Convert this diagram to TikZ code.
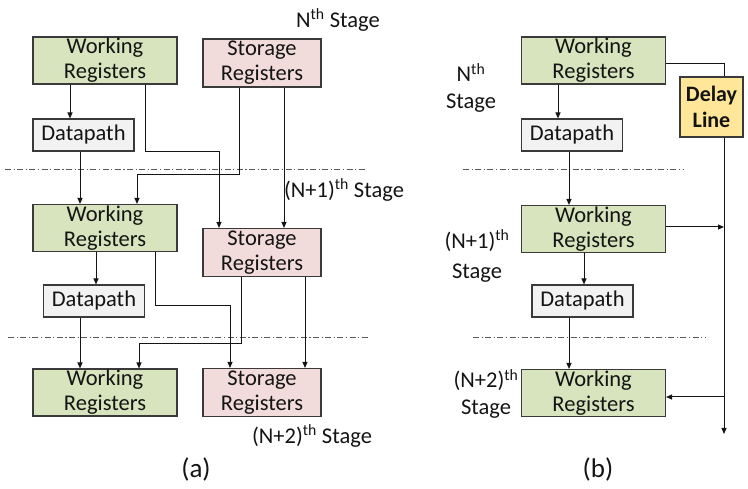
\documentclass[tikz,border=0pt]{standalone}
\usepackage{fontspec}
\setmainfont{Carlito}
\usetikzlibrary{arrows.meta}
\definecolor{wrfill}{HTML}{D7E4BD}
\definecolor{srfill}{HTML}{F2DCDB}
\definecolor{dpfill}{HTML}{F2F2F2}
\definecolor{dlfill}{HTML}{FFE699}
\definecolor{boxline}{HTML}{3A3A3A}
\definecolor{txt}{HTML}{141414}
\tikzset{
  box/.style={draw=boxline, line width=1.1pt, inner sep=0pt, align=center,
    font=\fontsize{22.5}{25}\selectfont, text=txt},
  wrbox/.style={box, fill=wrfill, minimum width=144pt, minimum height=47pt},
  srbox/.style={box, fill=srfill, minimum width=118pt, minimum height=48pt},
  dpbox/.style={box, fill=dpfill, minimum width=101pt, minimum height=32pt},
  dlbox/.style={box, fill=dlfill, minimum width=63pt, minimum height=60pt,
    font=\fontsize{22}{26}\selectfont\bfseries},
  arr/.style={draw=txt, line width=1pt, -{Triangle[length=6pt,width=5pt]}},
  wire/.style={draw=txt, line width=1pt},
  sep/.style={draw=gray!70!black, line width=1pt, dash pattern=on 6pt off 2.5pt on 1.2pt off 2.5pt},
  lbl/.style={font=\fontsize{22.5}{27}\selectfont, text=txt, align=center, inner sep=0pt},
  captxt/.style={font=\fontsize{27}{30}\selectfont, text=txt, inner sep=0pt}
}
\begin{document}
\begin{tikzpicture}[x=1pt,y=-1pt]
\useasboundingbox (0,0) rectangle (748,489);
% ---------------- (a) ----------------
\node[wrbox] (aw1) at (105,60.5) {Working\\Registers};
\node[srbox] (as1) at (262,63) {Storage\\Registers};
\node[dpbox] (ad1) at (83.5,135) {Datapath};
\node[wrbox] (aw2) at (105,228) {Working\\Registers};
\node[srbox] (as2) at (262,252.5) {Storage\\Registers};
\node[dpbox] (ad2) at (94,301) {Datapath};
\node[wrbox] (aw3) at (105,392.5) {Working\\Registers};
\node[srbox] (as3) at (262,392.5) {Storage\\Registers};

\coordinate (asepA1) at (5,170);
\coordinate (asepA2) at (366,170);
\coordinate (asepB1) at (8,338);
\coordinate (asepB2) at (368,338);
\draw[sep] (asepA1) -- (asepA2);
\draw[sep] (asepB1) -- (asepB2);

\node[lbl] (an) at (338,20) {N\textsuperscript{th} Stage};
\node[lbl] (an1) at (344,190) {(N+1)\textsuperscript{th} Stage};
\node[lbl] (an2) at (312,436) {(N+2)\textsuperscript{th} Stage};
\node[captxt] (acap) at (196,469) {(a)};

\draw[arr] (aw1.south -| 70,0) -- (ad1.north -| 70,0);
\draw[arr] (ad1.south -| 80,0) -- (aw2.north -| 80,0);
\draw[arr] (aw1.south -| 145,0) -- (145,152) -- (219,152) -- (as2.north -| 219,0);
\draw[arr] (as1.south -| 239,0) -- (239,175) -- (137,175) -- (aw2.north -| 137,0);
\draw[arr] (as1.south -| 284,0) -- (as2.north -| 284,0);

\draw[arr] (aw2.south -| 96,0) -- (ad2.north -| 96,0);
\draw[arr] (ad2.south -| 80,0) -- (aw3.north -| 80,0);
\draw[arr] (aw2.south -| 155,0) -- (155,306) -- (230,306) -- (as3.north -| 230,0);
\draw[arr] (as2.south -| 241,0) -- (241,344) -- (139,344) -- (aw3.north -| 139,0);
\draw[arr] (as2.south -| 305,0) -- (as3.north -| 305,0);

% ---------------- (b) ----------------
\node[wrbox] (bw1) at (593.5,60.5) {Working\\Registers};
\node[dpbox] (bd1) at (572,135) {Datapath};
\node[wrbox] (bw2) at (593.5,229) {Working\\Registers};
\node[dpbox] (bd2) at (582.5,301) {Datapath};
\node[wrbox] (bw3) at (593.5,393) {Working\\Registers};
\node[dlbox] (bdl) at (711.5,107) {Delay\\Line};

\coordinate (bsepA1) at (463,170);
\coordinate (bsepA2) at (683,170);
\coordinate (bsepB1) at (473,338);
\coordinate (bsepB2) at (705,338);
\draw[sep] (bsepA1) -- (bsepA2);
\draw[sep] (bsepB1) -- (bsepB2);

\node[lbl] (bn) at (471,88) {N\textsuperscript{th}\\Stage};
\node[lbl] (bn1) at (477,256) {(N+1)\textsuperscript{th}\\[3pt]Stage};
\node[lbl] (bn2) at (486,394) {(N+2)\textsuperscript{th}\\Stage};
\node[captxt] (bcap) at (598,469) {(b)};

\coordinate (bend) at (724,434);
\draw[arr] (bw1.south -| 558,0) -- (bd1.north -| 558,0);
\draw[arr] (bd1.south -| 569,0) -- (bw2.north -| 569,0);
\draw[arr] (bw2.south -| 584,0) -- (bd2.north -| 584,0);
\draw[arr] (bd2.south -| 569,0) -- (bw3.north -| 569,0);
\draw[wire] (bw1.east |- 0,64) -| (bdl.north -| 724,0);
\draw[arr] (bdl.south -| 724,0) -- (bend);
\draw[arr] (bw2.east |- 0,227) -- (724,227);
\draw[arr] (724,397) -- (bw3.east |- 0,397);
\end{tikzpicture}
\end{document}
